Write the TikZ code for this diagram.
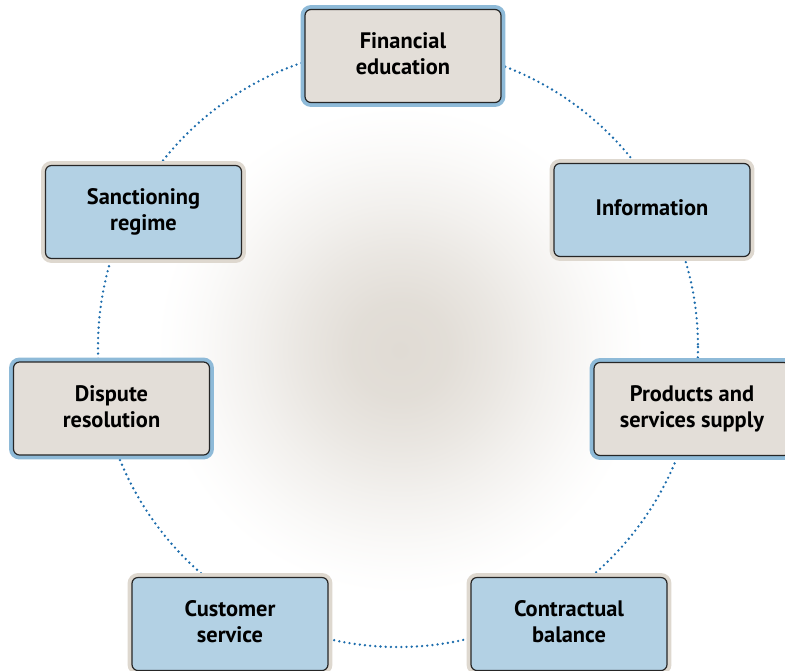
\documentclass[tikz,border=0pt]{standalone}
\usepackage{fontspec}
\setmainfont{PT Sans}
\usetikzlibrary{backgrounds, positioning}
\definecolor{boxblue}{RGB}{179,209,228}
\definecolor{boxgrey}{RGB}{227,222,216}
\definecolor{rimblue}{RGB}{142,186,216}
\definecolor{rimgrey}{RGB}{222,216,207}
\definecolor{dotblue}{RGB}{28,108,172}
\definecolor{glow}{RGB}{224,219,212}
\pgfdeclareradialshading{halo}{\pgfpoint{0bp}{0bp}}{
    color(0bp)=(glow);
    color(5bp)=(glow!92!white);
    color(10bp)=(glow!68!white);
    color(15bp)=(glow!40!white);
    color(20bp)=(glow!16!white);
    color(23bp)=(glow!5!white);
    color(25bp)=(white);
    color(50bp)=(white)}
\tikzset{
    topic/.style={
        rectangle,
        rounded corners=3pt,
        draw=black!85,
        line width=0.6pt,
        minimum width=98pt,
        minimum height=46.5pt,
        align=center,
        font=\bfseries\fontsize{11.2}{13}\selectfont,
    },
    bluebox/.style={
        topic,
        fill=boxblue,
        preaction={draw=rimgrey, line width=4.4pt},
    },
    greybox/.style={
        topic,
        fill=boxgrey,
        preaction={draw=rimblue, line width=4.4pt},
    },
    ring/.style={
        draw=dotblue,
        line width=1.3pt,
        line cap=round,
        dash pattern=on 0pt off 2.6pt,
    },
}
\begin{document}
\begin{tikzpicture}[x=0.5pt, y=-0.5pt]
          \useasboundingbox (0,0) rectangle (785,670);
          \coordinate (hub) at (398,347);
          \coordinate (glowc) at (400,350);

          \node [greybox] (fin) at (403,56) {Financial\\education\vphantom{p}};
          \node [bluebox] (info) at (652,210) {Information\vphantom{p}};
          \node [greybox] (prod) at (692,409) {Products and\\services supply};
          \node [bluebox] (contr) at (569,624) {Contractual\\balance\vphantom{p}};
          \node [bluebox] (cust) at (230,624) {Customer\\service\vphantom{p}};
          \node [greybox] (disp) at (111.5,408.5) {Dispute\\resolution\vphantom{p}};
          \node [bluebox] (sanc) at (143.5,212) {Sanctioning\\regime};

          \begin{scope}[on background layer]
            \shade [shading=halo] (glowc) circle (245);
            \draw [ring] (hub) circle (300);
          \end{scope}
        \end{tikzpicture}
\end{document}
